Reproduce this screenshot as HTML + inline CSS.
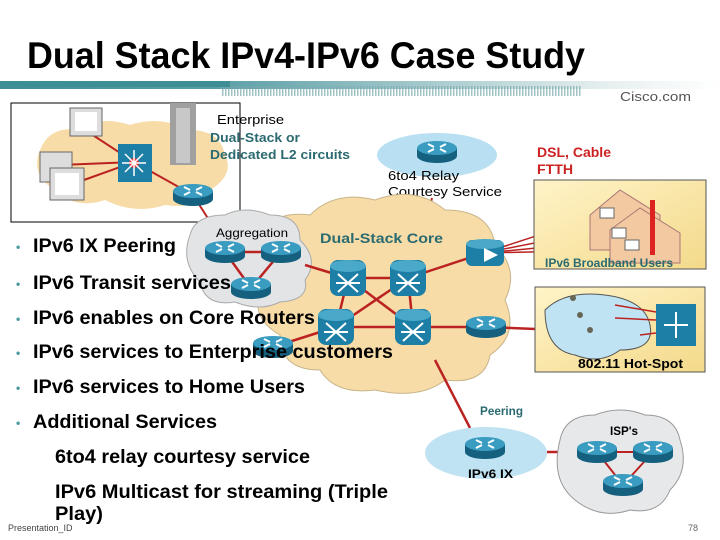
<!DOCTYPE html>
<html><head><meta charset="utf-8"><style>
body{margin:0;width:720px;height:540px;overflow:hidden;background:#fff}
svg{display:block}
text{font-family:"Liberation Sans",Arial,sans-serif}
</style></head><body>
<svg width="720" height="540" viewBox="0 0 720 540" xmlns="http://www.w3.org/2000/svg">
<defs>
<linearGradient id="bar" x1="0" x2="1"><stop offset="0" stop-color="#3e8e96"/><stop offset="0.3" stop-color="#5a9fa6"/><stop offset="0.85" stop-color="#e8f0f0"/><stop offset="1" stop-color="#fff"/></linearGradient>
<pattern id="str" width="3" height="10" patternUnits="userSpaceOnUse"><rect width="1.5" height="10" fill="#7aa9ae"/></pattern>
<linearGradient id="box" x1="0" y1="0" x2="1" y2="1"><stop offset="0" stop-color="#fff4c8"/><stop offset="1" stop-color="#f3d98a"/></linearGradient>
<g id="rt"><path d="M-20,-4 v8 a20,7 0 0 0 40,0 v-8z" fill="#14607e"/><ellipse cx="0" cy="-4" rx="20" ry="7" fill="#3a9cc0"/><path d="M-9,-8 l6,3 M9,-8 l-6,3 M-9,0 l6,-3 M9,0 l-6,-3" stroke="#fff" stroke-width="2"/></g>
<g id="sw"><rect x="-18" y="-18" width="36" height="36" rx="8" fill="#1d7fa6"/><ellipse cx="0" cy="-12" rx="18" ry="6" fill="#4aa8c8"/><path d="M-10,-4 L10,14 M10,-4 L-10,14 M-12,5 h24" stroke="#fff" stroke-width="2" fill="none"/></g>
</defs>
<text x="27" y="68" font-size="37" font-weight="bold" fill="#000" textLength="558" lengthAdjust="spacingAndGlyphs">Dual Stack IPv4-IPv6 Case Study</text>
<rect x="0" y="81" width="720" height="8" fill="url(#bar)"/>
<rect x="222" y="86" width="360" height="10" fill="url(#str)" opacity="0.7"/>
<rect x="0" y="81" width="230" height="6" fill="#3e8e96"/>
<text x="620" y="101" font-size="13" fill="#555" textLength="71" lengthAdjust="spacingAndGlyphs">Cisco.com</text>

<!-- enterprise -->
<rect x="11" y="103" width="229" height="119" fill="#fff" stroke="#000"/>
<path d="M40,150 q10,-25 40,-20 q20,-15 50,-5 q30,-10 60,5 q30,0 35,25 q10,20 -15,35 q-10,20 -45,15 q-30,10 -60,-5 q-30,10 -50,-10 q-25,-15 -15,-40z" fill="#f7dca7"/>
<rect x="170" y="103" width="26" height="62" fill="#a0a0a0"/><rect x="176" y="108" width="14" height="55" fill="#c8c8c8"/>
<g stroke="#b22" stroke-width="2"><line x1="85" y1="130" x2="134" y2="162"/><line x1="60" y1="165" x2="134" y2="162"/><line x1="70" y1="185" x2="134" y2="162"/><line x1="134" y1="162" x2="193" y2="195"/><line x1="193" y1="195" x2="225" y2="245"/></g>
<g fill="#ddd" stroke="#666"><rect x="70" y="108" width="32" height="28"/><rect x="40" y="152" width="32" height="30"/><rect x="50" y="168" width="34" height="32"/></g>
<g fill="#fff"><rect x="75" y="112" width="22" height="19"/><rect x="55" y="173" width="24" height="22"/></g>
<rect x="118" y="144" width="34" height="38" fill="#1d7fa6"/><circle cx="134" cy="163" r="5" fill="#e33"/>
<path d="M122,163 h24 M134,150 v26 M125,154 l18,18 M143,154 l-18,18" stroke="#fff" stroke-width="1.5"/>
<use href="#rt" x="193" y="195"/>
<text x="217" y="124" font-size="13" textLength="67" lengthAdjust="spacingAndGlyphs">Enterprise</text>
<text x="210" y="142" font-size="13" font-weight="bold" fill="#2a6a70" textLength="90" lengthAdjust="spacingAndGlyphs">Dual-Stack or</text>
<text x="210" y="159" font-size="13" font-weight="bold" fill="#2a6a70" textLength="140" lengthAdjust="spacingAndGlyphs">Dedicated L2 circuits</text>

<!-- relay -->
<ellipse cx="437" cy="155" rx="60" ry="22" fill="#b8e0f2"/>
<use href="#rt" x="437" y="152"/>
<text x="388" y="180" font-size="13" textLength="71" lengthAdjust="spacingAndGlyphs">6to4 Relay</text>
<text x="388" y="196" font-size="13" textLength="114" lengthAdjust="spacingAndGlyphs">Courtesy Service</text>
<line x1="432" y1="198" x2="428" y2="215" stroke="#b22" stroke-width="2"/>

<!-- core cloud -->
<path d="M260,240 q10,-30 50,-25 q25,-25 65,-15 q40,-15 70,10 q45,0 50,35 q25,25 10,55 q15,35 -15,55 q-5,30 -45,25 q-25,20 -70,10 q-40,5 -55,-20 q-40,0 -40,-35 q-35,-20 -15,-55 q-25,-20 -5,-40z" fill="#f7dca7" stroke="#c8b58a"/>
<!-- aggregation cloud -->
<path d="M190,235 q5,-20 35,-20 q20,-10 45,0 q30,0 30,25 q20,20 5,40 q5,20 -25,22 q-20,10 -45,0 q-30,5 -35,-20 q-20,-20 -10,-47z" fill="#e2e4e6" stroke="#aaa"/>
<text x="216" y="237" font-size="12" textLength="72" lengthAdjust="spacingAndGlyphs">Aggregation</text>
<text x="320" y="243" font-size="14" font-weight="bold" fill="#2a6a70" textLength="123" lengthAdjust="spacingAndGlyphs">Dual-Stack Core</text>
<g stroke="#b22" stroke-width="2.5">
<line x1="225" y1="252" x2="281" y2="252"/><line x1="225" y1="252" x2="251" y2="288"/><line x1="281" y1="252" x2="251" y2="288"/>
<line x1="305" y1="265" x2="348" y2="278"/><line x1="348" y1="278" x2="408" y2="278"/><line x1="336" y1="327" x2="413" y2="327"/>
<line x1="348" y1="278" x2="336" y2="327"/><line x1="408" y1="278" x2="413" y2="327"/><line x1="348" y1="278" x2="413" y2="327"/><line x1="408" y1="278" x2="336" y2="327"/>
<line x1="408" y1="278" x2="484" y2="253"/><line x1="413" y1="327" x2="486" y2="327"/><line x1="336" y1="327" x2="273" y2="347"/>
<line x1="435" y1="360" x2="470" y2="428"/><line x1="486" y1="327" x2="560" y2="330"/>
<line x1="547" y1="452" x2="565" y2="452"/>
</g>
<g stroke="#b22" stroke-width="1.5"><line x1="484" y1="253" x2="600" y2="215"/><line x1="484" y1="253" x2="610" y2="228"/><line x1="484" y1="253" x2="620" y2="240"/><line x1="484" y1="253" x2="615" y2="250"/></g>
<use href="#rt" x="225" y="252"/><use href="#rt" x="281" y="252"/><use href="#rt" x="251" y="288"/>
<use href="#sw" x="348" y="278"/><use href="#sw" x="408" y="278"/><use href="#sw" x="336" y="327"/><use href="#sw" x="413" y="327"/>
<use href="#rt" x="273" y="347"/><use href="#rt" x="486" y="327"/>
<rect x="466" y="240" width="38" height="26" rx="6" fill="#1d7fa6"/><ellipse cx="485" cy="244" rx="19" ry="5" fill="#4aa8c8"/><path d="M484,248 l14,7 l-14,7z" fill="#fff"/>

<!-- broadband -->
<rect x="534" y="180" width="172" height="89" fill="url(#box)" stroke="#555"/>
<path d="M590,215 l30,-25 l40,25 v35 h-70z" fill="#f2c9a0" stroke="#a77"/>
<path d="M610,230 l30,-22 l40,25 v30 h-70z" fill="#f2c9a0" stroke="#a77"/>
<rect x="650" y="200" width="5" height="55" fill="#d22"/>
<g fill="#fff" stroke="#666"><rect x="600" y="208" width="14" height="10"/><rect x="612" y="228" width="14" height="10"/><rect x="625" y="240" width="14" height="10"/></g>
<text x="545" y="267" font-size="12" font-weight="bold" fill="#2a6a70" textLength="128" lengthAdjust="spacingAndGlyphs">IPv6 Broadband Users</text>
<text x="537" y="157" font-size="14" font-weight="bold" fill="#c22" textLength="74" lengthAdjust="spacingAndGlyphs">DSL, Cable</text>
<text x="537" y="174" font-size="14" font-weight="bold" fill="#c22" textLength="36" lengthAdjust="spacingAndGlyphs">FTTH</text>

<!-- hotspot -->
<rect x="535" y="287" width="170" height="85" fill="url(#box)" stroke="#555"/>
<path d="M545,310 q20,-20 60,-15 q40,5 45,30 q5,25 -30,25 q-20,15 -45,5 q-30,-5 -30,-45z" fill="#bfe3f2" stroke="#555"/>
<g fill="#665"><circle cx="573" cy="298" r="3"/><circle cx="580" cy="315" r="3"/><circle cx="590" cy="330" r="3"/></g>
<g stroke="#b22" stroke-width="1.5"><line x1="615" y1="305" x2="656" y2="312"/><line x1="615" y1="318" x2="656" y2="320"/><line x1="640" y1="335" x2="656" y2="333"/></g>
<rect x="656" y="304" width="40" height="42" fill="#1d7fa6"/><path d="M664,325 h24 M676,312 v26" stroke="#fff" stroke-width="2"/>
<text x="578" y="368" font-size="13" font-weight="bold" textLength="105" lengthAdjust="spacingAndGlyphs">802.11 Hot-Spot</text>

<!-- IX -->
<text x="480" y="415" font-size="12" font-weight="bold" fill="#2a6a70" textLength="43" lengthAdjust="spacingAndGlyphs">Peering</text>
<ellipse cx="486" cy="453" rx="61" ry="26" fill="#bfe3f2"/>
<use href="#rt" x="485" y="448"/>
<text x="468" y="478" font-size="12" font-weight="bold" textLength="45" lengthAdjust="spacingAndGlyphs">IPv6 IX</text>
<path d="M560,440 q5,-25 35,-25 q25,-10 50,0 q30,0 35,25 q10,30 -10,50 q-10,25 -40,20 q-30,10 -55,-10 q-25,-20 -15,-60z" fill="#e6e8ea" stroke="#999"/>
<text x="610" y="435" font-size="12" font-weight="bold" textLength="28" lengthAdjust="spacingAndGlyphs">ISP's</text>
<g stroke="#b22" stroke-width="2"><line x1="597" y1="452" x2="653" y2="452"/><line x1="597" y1="452" x2="623" y2="485"/><line x1="653" y1="452" x2="623" y2="485"/></g>
<use href="#rt" x="597" y="452"/><use href="#rt" x="653" y="452"/><use href="#rt" x="623" y="485"/>

<!-- bullets -->
<g font-size="19" font-weight="bold" fill="#000">
<text x="16" y="251" fill="#4a9aa0" font-size="12">•</text><text x="33" y="252" textLength="143" lengthAdjust="spacingAndGlyphs">IPv6 IX Peering</text>
<text x="16" y="288" fill="#4a9aa0" font-size="12">•</text><text x="33" y="289" textLength="198" lengthAdjust="spacingAndGlyphs">IPv6 Transit services</text>
<text x="16" y="323" fill="#4a9aa0" font-size="12">•</text><text x="33" y="324" textLength="282" lengthAdjust="spacingAndGlyphs">IPv6 enables on Core Routers</text>
<text x="16" y="357" fill="#4a9aa0" font-size="12">•</text><text x="33" y="358" textLength="360" lengthAdjust="spacingAndGlyphs">IPv6 services to Enterprise customers</text>
<text x="16" y="392" fill="#4a9aa0" font-size="12">•</text><text x="33" y="393" textLength="272" lengthAdjust="spacingAndGlyphs">IPv6 services to Home Users</text>
<text x="16" y="427" fill="#4a9aa0" font-size="12">•</text><text x="33" y="428" textLength="184" lengthAdjust="spacingAndGlyphs">Additional Services</text>
<text x="55" y="463" textLength="255" lengthAdjust="spacingAndGlyphs">6to4 relay courtesy service</text>
<text x="55" y="498" textLength="333" lengthAdjust="spacingAndGlyphs">IPv6 Multicast for streaming (Triple</text>
<text x="55" y="520" textLength="48" lengthAdjust="spacingAndGlyphs">Play)</text>
</g>
<text x="8" y="531" font-size="9" fill="#444">Presentation_ID</text>
<text x="688" y="531" font-size="9" fill="#666">78</text>
</svg>
</body></html>
